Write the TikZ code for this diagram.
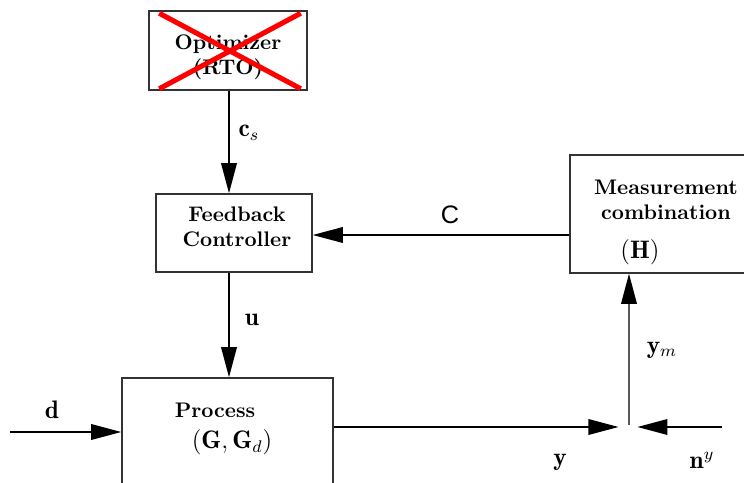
\documentclass[tikz,border=0pt]{standalone}
\usepackage{fontspec}
\newfontfamily\helvfont{Liberation Sans}
\usetikzlibrary{positioning,arrows.meta,calc}

\begin{document}
\begin{tikzpicture}[
    x=0.01667cm, y=-0.01667cm,
    box/.style={rectangle, draw=black!80, line width=0.7pt, fill=none, inner sep=0pt},
    boxtext/.style={font=\bfseries, align=center, inner sep=1pt},
    label/.style={font=\large, inner sep=1pt},
    arrow/.style={-{Triangle[length=0.5cm, width=0.26cm]}, line width=0.7pt},
]

% ====== Frame ======
\clip (0,0) rectangle (744,483);
\fill[white] (0,0) rectangle (744,483);

% ====== Blocks ======
\node[box, minimum width=2.633cm, minimum height=1.317cm] (opt) at (228,50.5) {};
\node[boxtext] (optT) at (228,57) {Optimizer\\(RTO)};
\node[box, minimum width=2.6cm, minimum height=1.3cm] (fb) at (234,233) {};
\node[boxtext] (fbT) at (237,227) {Feedback\\Controller};
\node[box, minimum width=3.333cm, minimum height=1.967cm] (meas) at (670,214) {};
\node[boxtext] (measT) at (666,200) {Measurement\\combination};
\node[label] (measH) at (640,252) {$(\mathbf{H})$};
\node[box, minimum width=3.517cm, minimum height=2.033cm] (proc) at (227.5,439) {};
\node[boxtext] (procT) at (215,410) {Process};
\node[label] (procG) at (232,442) {$(\mathbf{G},\mathbf{G}_d)$};

% ====== Red cross over the optimizer ======
\draw[red, line width=2.4pt] ([shift={(11,3)}]opt.north west) -- ([shift={(-7,-2)}]opt.south east);
\draw[red, line width=2.4pt] ([shift={(11,-2)}]opt.south west) -- ([shift={(-7,3)}]opt.north east);

% ====== Signals ======
\coordinate (dIn) at (10,432);
\coordinate (sum) at (629,425);
\coordinate (nIn) at (722,427);

\draw[arrow] (opt.south -| 229,0) -- (fb.north -| 229,0);
\draw[arrow] (meas.west |- 0,235) -- (fb.east |- 0,235);
\draw[arrow] (fb.south -| 229,0) -- (proc.north -| 229,0);
\draw[arrow] (dIn) -- (dIn -| proc.west);
\draw[arrow, shorten >=5pt] (proc.east |- nIn) -- (sum |- nIn);
\draw[arrow, shorten >=4pt] (nIn) -- (sum |- nIn);
\draw[-{Triangle[length=0.5cm, width=0.26cm, color=black]}, line width=0.7pt, black!65] (sum) -- (sum |- meas.south);

% ====== Labels ======
\node[label] (csL) at (249,133) {$\mathbf{c}_s$};
\node[label, font=\large\helvfont] (cL) at (450,215) {C};
\node[label] (uL) at (252,320) {$\mathbf{u}$};
\node[label] (ymL) at (662,350) {$\mathbf{y}_m$};
\node[label] (dL) at (52,410) {$\mathbf{d}$};
\node[label] (yL) at (560,462) {$\mathbf{y}$};
\node[label] (nL) at (702,460) {$\mathbf{n}^y$};

\end{tikzpicture}
\end{document}
